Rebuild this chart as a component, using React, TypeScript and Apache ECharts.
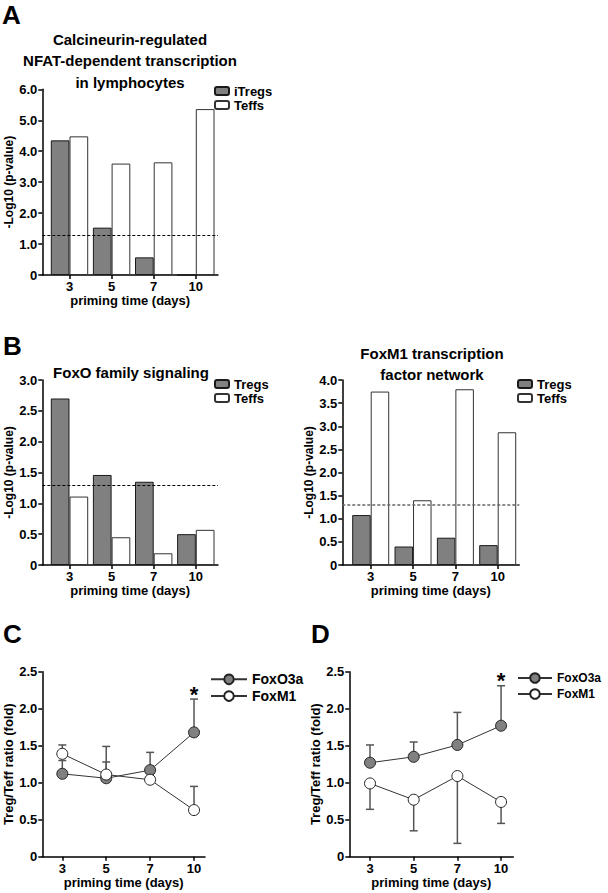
import React, { useEffect, useRef } from "react";
import * as echarts from "echarts";

const days = ["3", "5", "7", "10"];
const threshold = 1.3;

// Panel A
const aITregs = [4.35, 1.53, 0.57, 0];
const aTeffs = [4.48, 3.6, 3.64, 5.36];
// Panel B left (FoxO)
const bFoxoTregs = [2.7, 1.46, 1.35, 0.5];
const bFoxoTeffs = [1.11, 0.45, 0.19, 0.57];
// Panel B right (FoxM1)
const bFoxm1Tregs = [1.08, 0.4, 0.59, 0.43];
const bFoxm1Teffs = [3.75, 1.4, 3.8, 2.87];
// Panel C
const cFoxO3a = [1.12, 1.06, 1.17, 1.68];
const cFoxO3aErrEnd = [1.3, 1.49, 1.41, 2.13];
const cFoxM1 = [1.39, 1.11, 1.04, 0.63];
const cFoxM1ErrEnd = [1.51, 1.28, 1.04, 0.95];
// Panel D
const dFoxO3a = [1.27, 1.35, 1.51, 1.77];
const dFoxO3aErrEnd = [1.51, 1.55, 1.95, 2.31];
const dFoxM1 = [0.99, 0.77, 1.09, 0.74];
const dFoxM1ErrEnd = [0.64, 0.35, 0.18, 0.45];

const FONT = '"Liberation Sans", Arial, Helvetica, sans-serif';
const NARROW = '"Liberation Sans Narrow", "Liberation Sans", Arial, sans-serif';

const GRAY = "#808080";
const DARK = "#1a1a1a";

function pairs(vals: number[]) {
  return vals.map((v, i) => [i, v]);
}

function xAxisFor(gridIndex: number, min: number, max: number, nameGap: number) {
  return {
    type: "value",
    gridIndex,
    min,
    max,
    splitLine: { show: false },
    axisLine: { show: true, onZero: false, lineStyle: { color: "#000", width: 1.5 } },
    axisTick: { show: true, customValues: [0, 1, 2, 3], length: 4, lineStyle: { color: "#000", width: 1.5 } },
    axisLabel: {
      customValues: [0, 1, 2, 3],
      formatter: (v: number) => days[Math.round(v)],
      color: "#000",
      fontSize: 13,
      fontWeight: "bold",
      fontFamily: FONT,
      margin: 5,
    },
    name: "priming time (days)",
    nameLocation: "middle",
    nameGap,
    nameTextStyle: { color: "#000", fontSize: 13, fontWeight: "bold", fontFamily: FONT },
  };
}

function yAxisFor(gridIndex: number, max: number, interval: number, name: string, nameSize: number, nameGap: number) {
  return {
    type: "value",
    gridIndex,
    min: 0,
    max,
    interval,
    splitLine: { show: false },
    axisLine: { show: true, onZero: false, lineStyle: { color: "#000", width: 1.5 } },
    axisTick: { show: true, length: 4, lineStyle: { color: "#000", width: 1.5 } },
    axisLabel: {
      formatter: (v: number) => (v === 0 ? "0" : v.toFixed(1)),
      color: "#000",
      fontSize: 13,
      fontWeight: "bold",
      fontFamily: FONT,
      margin: 5,
    },
    name,
    nameLocation: "middle",
    nameRotate: 90,
    nameGap,
    nameTextStyle: { color: "#000", fontSize: nameSize, fontWeight: "bold", fontFamily: FONT },
  };
}

function thresholdLine(color: string, width: number) {
  return {
    silent: true,
    symbol: "none",
    label: { show: false },
    lineStyle: { color, width, type: [3, 2] },
    data: [{ yAxis: threshold }],
  };
}

function barPair(axis: number, name1: string, v1: number[], v2: number[], barWidth: number, lineColor: string, lineWidth: number) {
  return [
    {
      type: "bar",
      name: name1,
      xAxisIndex: axis,
      yAxisIndex: axis,
      data: pairs(v1),
      barWidth,
      barGap: "0%",
      itemStyle: { color: GRAY, borderColor: DARK, borderWidth: 1 },
      markLine: thresholdLine(lineColor, lineWidth),
      z: 2,
    },
    {
      type: "bar",
      name: "Teffs",
      xAxisIndex: axis,
      yAxisIndex: axis,
      data: pairs(v2),
      barWidth,
      barGap: "0%",
      itemStyle: { color: "#fff", borderColor: "#333", borderWidth: 1 },
      z: 2,
    },
  ];
}

function errorSeries(axis: number, means: number[], ends: number[]) {
  return {
    type: "custom",
    name: "err",
    xAxisIndex: axis,
    yAxisIndex: axis,
    silent: true,
    z: 1,
    data: means.map((m, i) => [i, m, ends[i]]),
    encode: { x: 0, y: [1, 2] },
    renderItem: (_params: any, api: any) => {
      const x = api.value(0);
      const p0 = api.coord([x, api.value(1)]);
      const p1 = api.coord([x, api.value(2)]);
      if (Math.abs(p1[1] - p0[1]) < 0.5) return null;
      return {
        type: "group",
        children: [
          { type: "line", shape: { x1: p0[0], y1: p0[1], x2: p1[0], y2: p1[1] }, style: { stroke: "#555", lineWidth: 1.5 } },
          { type: "line", shape: { x1: p1[0] - 4, y1: p1[1], x2: p1[0] + 4, y2: p1[1] }, style: { stroke: "#555", lineWidth: 1.5 } },
        ],
      };
    },
  };
}

function lineSeries(axis: number, name: string, vals: number[], fill: string, star?: number) {
  const s: any = {
    type: "line",
    name,
    xAxisIndex: axis,
    yAxisIndex: axis,
    data: pairs(vals),
    symbol: "circle",
    symbolSize: 11,
    itemStyle: { color: fill, borderColor: "#222", borderWidth: 1 },
    lineStyle: { color: "#333", width: 1 },
    z: 3,
  };
  if (star !== undefined) {
    s.markPoint = {
      silent: true,
      symbol: "circle",
      symbolSize: 0,
      data: [{ coord: [3, star] }],
      label: {
        show: true,
        formatter: "*",
        position: "inside",
        offset: [0, -5],
        color: "#000",
        fontSize: 22,
        fontWeight: "bold",
        fontFamily: FONT,
      },
    };
  }
  return s;
}

function barLegend(names: string[], left: number, top: number) {
  return {
    data: names,
    left,
    top,
    orient: "vertical",
    itemWidth: 14,
    itemHeight: 8,
    itemGap: 0,
    padding: 0,
    selectedMode: false,
    textStyle: { color: "#000", fontSize: 13, fontWeight: "bold", fontFamily: FONT, lineHeight: 14 },
  };
}

function lineLegend(left: number, top: number, width: number, family: string, size: number, lh: number) {
  return {
    data: ["FoxO3a", "FoxM1"],
    left,
    top,
    orient: "vertical",
    itemWidth: width,
    itemHeight: 12,
    itemGap: 0,
    padding: 0,
    selectedMode: false,
    textStyle: { color: "#000", fontSize: size, fontWeight: "bold", fontFamily: family, lineHeight: lh },
  };
}

function letter(t: string, x: number, y: number) {
  return {
    type: "text",
    x,
    y,
    style: { text: t, fontSize: 26, fontWeight: "bold", fontFamily: FONT, fill: "#000", verticalAlign: "middle", align: "left" },
  };
}

export default function App() {
  const ref = useRef<HTMLDivElement>(null);
  useEffect(() => {
    if (!ref.current) return;
    const chart = echarts.init(ref.current, undefined, { renderer: "svg" });
    const titleStyle = { color: "#000", fontSize: 15, fontWeight: "bold", fontFamily: FONT, lineHeight: 21.5, align: "center" };
    const option: any = {
      animation: false,
      backgroundColor: "#fff",
      title: [
        { text: "Calcineurin-regulated\nNFAT-dependent transcription\nin lymphocytes", left: 130, top: 28.5, textAlign: "center", padding: 0, textStyle: titleStyle },
        { text: "FoxO family signaling", left: 131, top: 361.5, textAlign: "center", padding: 0, textStyle: titleStyle },
        { text: "FoxM1 transcription\nfactor network", left: 432, top: 342.5, textAlign: "center", padding: 0, textStyle: titleStyle },
      ],
      grid: [
        { left: 42.3, top: 89.3, width: 175.7, height: 185.7 },
        { left: 42.3, top: 380, width: 175.7, height: 185 },
        { left: 342.3, top: 380, width: 177, height: 185 },
        { left: 42.3, top: 671.7, width: 162.7, height: 185 },
        { left: 349.3, top: 671.7, width: 164, height: 185 },
      ],
      xAxis: [
        xAxisFor(0, -0.646, 3.527, 18),
        xAxisFor(1, -0.646, 3.527, 18),
        xAxisFor(2, -0.671, 3.51, 18),
        xAxisFor(3, -0.456, 3.25, 19),
        xAxisFor(4, -0.474, 3.28, 19),
      ],
      yAxis: [
        yAxisFor(0, 6, 1, "-Log10 (p-value)", 12, 27),
        yAxisFor(1, 3, 0.5, "-Log10 (p-value)", 12, 27),
        yAxisFor(2, 4, 0.5, "-Log10 (p-value)", 12, 27),
        yAxisFor(3, 2.5, 0.5, "Treg/Teff ratio (fold)", 13, 27),
        yAxisFor(4, 2.5, 0.5, "Treg/Teff ratio (fold)", 13, 27),
      ],
      legend: [
        barLegend(["iTregs", "Teffs"], 214, 84),
        barLegend(["Tregs", "Teffs"], 214, 377),
        barLegend(["Tregs", "Teffs"], 517, 377),
        lineLegend(210, 671, 36, NARROW, 14, 16.7),
        lineLegend(517, 670, 34, FONT, 12, 16),
      ],
      graphic: [letter("A", 2, 14.5), letter("B", 3, 346), letter("C", 3, 633.5), letter("D", 311, 633.5)],
      series: [
        ...barPair(0, "iTregs", aITregs, aTeffs, 18.7, "#000", 1),
        ...barPair(1, "Tregs", bFoxoTregs, bFoxoTeffs, 18.7, "#000", 1),
        ...barPair(2, "Tregs", bFoxm1Tregs, bFoxm1Teffs, 18.5, "#666", 1.5),
        errorSeries(3, cFoxO3a, cFoxO3aErrEnd),
        errorSeries(3, cFoxM1, cFoxM1ErrEnd),
        lineSeries(3, "FoxO3a", cFoxO3a, GRAY, cFoxO3aErrEnd[3]),
        lineSeries(3, "FoxM1", cFoxM1, "#fff"),
        errorSeries(4, dFoxO3a, dFoxO3aErrEnd),
        errorSeries(4, dFoxM1, dFoxM1ErrEnd),
        lineSeries(4, "FoxO3a", dFoxO3a, GRAY, dFoxO3aErrEnd[3]),
        lineSeries(4, "FoxM1", dFoxM1, "#fff"),
      ],
    };
    chart.setOption(option);
    return () => chart.dispose();
  }, []);
  return (
    <div
      ref={ref}
      style={{ position: "fixed", left: 0, top: 0, width: 608, height: 893, background: "#fff" }}
    />
  );
}
